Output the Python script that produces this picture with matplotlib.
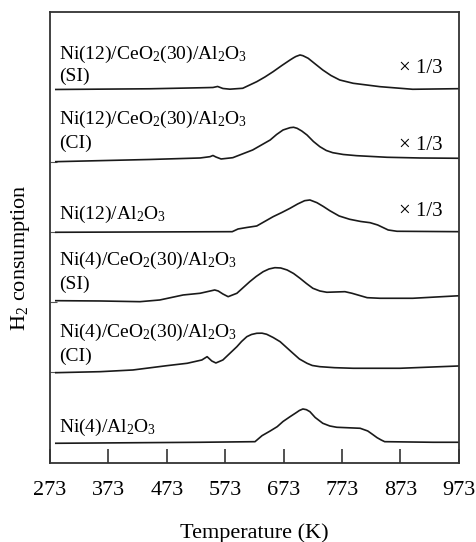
import numpy as np
import matplotlib
matplotlib.use('Agg')
import matplotlib.pyplot as plt

plt.rcParams['font.family'] = ['Liberation Serif', 'DejaVu Serif']
plt.rcParams['mathtext.fontset'] = 'custom'
plt.rcParams['mathtext.rm'] = 'Liberation Serif'

#-------------------------
# TPR profiles (temperature in K, signal in plot units incl. offset)

t_ni12_ce_si = [283, 444, 530, 552, 560, 569, 581, 603, 627, 641, 655, 670, 684, 690, 694, 701, 706, 715, 725, 740, 754, 769, 792, 838, 894, 973]
y_ni12_ce_si = [373.5, 374.2, 375.2, 375.5, 376.5, 374.5, 373.8, 374.7, 381.3, 386, 391.3, 397.5, 403, 405.2, 406.5, 408, 407.3, 404.7, 400, 393, 387.5, 383, 379.7, 376.3, 373.7, 374.3]

t_ni12_ce_ci = [283, 444, 530, 547, 552, 557, 566, 586, 620, 635, 650, 661, 672, 684, 690, 696, 704, 713, 724, 735, 746, 757, 775, 798, 850, 906, 973]
y_ni12_ce_ci = [301.3, 303.5, 305, 306.3, 307.5, 306, 304, 305.3, 313, 318, 323, 328.5, 333, 335.3, 335.7, 334.7, 332, 328, 321.5, 316.3, 312.5, 310.3, 308.5, 307.3, 305.7, 305, 304.7]

t_ni12_al = [283, 585, 595, 610, 627, 655, 670, 684, 697, 709, 718, 730, 741, 752, 768, 786, 805, 821, 834, 843, 852, 867, 973]
y_ni12_al = [230.7, 231.3, 234, 235.5, 237, 246.3, 250.5, 254.7, 259, 262.3, 263, 260.3, 256.5, 252.3, 247, 243.7, 241.5, 240.3, 238, 235.5, 233, 231.7, 231.3]

t_ni4_ce_si = [283, 359, 427, 461, 501, 530, 555, 561, 569, 578, 593, 615, 626, 638, 648, 658, 668, 679, 690, 701, 712, 723, 735, 747, 778, 790, 800, 816, 838, 894, 966, 973]
y_ni4_ce_si = [162.3, 162, 161.3, 163, 168, 169.7, 173, 172, 169, 166.3, 169.7, 181.3, 186.5, 191.3, 194, 195.3, 195, 193, 189.5, 184.7, 179.5, 174.7, 172, 170.7, 171.3, 169.7, 168, 165.3, 164.7, 164.7, 167, 167.2]

t_ni4_ce_ci = [283, 359, 415, 473, 508, 533, 542, 550, 557, 569, 593, 601, 610, 618, 627, 636, 644, 655, 667, 678, 689, 700, 713, 722, 735, 760, 792, 872, 973]
y_ni4_ce_ci = [90.3, 91.3, 93, 97.3, 99.7, 103, 106.3, 102, 100, 103, 116.3, 121.5, 126.3, 128.5, 129.7, 129.8, 128.7, 125.5, 121.3, 115.5, 109.7, 104, 99.7, 97.5, 96.3, 95.3, 94.7, 94.7, 97]

t_ni4_al = [283, 530, 624, 636, 650, 662, 672, 684, 695, 700, 706, 712, 718, 727, 740, 752, 764, 804, 817, 825, 833, 840, 846, 929, 973]
y_ni4_al = [19.7, 20.7, 21.3, 27.3, 32, 36.3, 41.5, 46.3, 50.5, 52.5, 54, 53.3, 51.3, 45.5, 39.7, 37, 35.7, 34.7, 32, 28.7, 25.3, 23, 21.3, 20.7, 20.7]

ticks_x = [273, 373, 473, 573, 673, 773, 873, 973]

#-------------------------
fig = plt.figure(figsize=(4.76, 5.42), dpi=100)
ax = fig.add_axes([0.105, 0.1458, 0.859, 0.8321])

curves = [(t_ni12_ce_si, y_ni12_ce_si), (t_ni12_ce_ci, y_ni12_ce_ci), (t_ni12_al, y_ni12_al),
          (t_ni4_ce_si, y_ni4_ce_si), (t_ni4_ce_ci, y_ni4_ce_ci), (t_ni4_al, y_ni4_al)]
for t, y in curves:
    ax.plot(t, y, color='#1a1a1a', lw=1.2, solid_joinstyle='round')

ax.set_xlim(273, 973)
ax.set_ylim(0, 451)
ax.set_xticks(ticks_x)
ax.set_xticklabels([str(v) for v in ticks_x])
ax.set_yticks([91, 161, 231, 301])
ax.set_yticklabels([])
ax.tick_params(axis='x', direction='in', length=10, width=1.2, labelsize=16, pad=13, color='#333333')
ax.tick_params(axis='y', direction='in', length=5, width=0.8, color='#555555')
for s in ax.spines.values():
    s.set_linewidth(1.3)
    s.set_color('#333333')

ax.set_xlabel('Temperature (K)', fontsize=16, labelpad=17)
fig.text(21 / 476, 1 - 258 / 542, r'H$\mathregular{_2}$ consumption', rotation=90,
         fontsize=16, ha='center', va='center')

# curve labels
fs = 14
lab_x = 289
ce12 = r'Ni(12)/CeO$\mathregular{_2}$(30)/Al$\mathregular{_2}$O$\mathregular{_3}$'
ce4 = r'Ni(4)/CeO$\mathregular{_2}$(30)/Al$\mathregular{_2}$O$\mathregular{_3}$'
ax.text(lab_x, 463 - 59, ce12, fontsize=fs, va='baseline')
ax.text(lab_x, 463 - 81, '(SI)', fontsize=fs, va='baseline')
ax.text(lab_x, 463 - 124, ce12, fontsize=fs, va='baseline')
ax.text(lab_x, 463 - 148, '(CI)', fontsize=fs, va='baseline')
ax.text(lab_x, 463 - 219, r'Ni(12)/Al$\mathregular{_2}$O$\mathregular{_3}$', fontsize=fs, va='baseline')
ax.text(lab_x, 463 - 265, ce4, fontsize=fs, va='baseline')
ax.text(lab_x, 463 - 289, '(SI)', fontsize=fs, va='baseline')
ax.text(lab_x, 463 - 337, ce4, fontsize=fs, va='baseline')
ax.text(lab_x, 463 - 361, '(CI)', fontsize=fs, va='baseline')
ax.text(lab_x, 463 - 432, r'Ni(4)/Al$\mathregular{_2}$O$\mathregular{_3}$', fontsize=fs, va='baseline')

# scale factors
sc_x = 945
for yb in [73, 150, 216]:
    ax.text(sc_x, 463 - yb, '\u00d7 1/3', fontsize=15, ha='right', va='baseline')

fig.savefig('out.png', dpi=100)
